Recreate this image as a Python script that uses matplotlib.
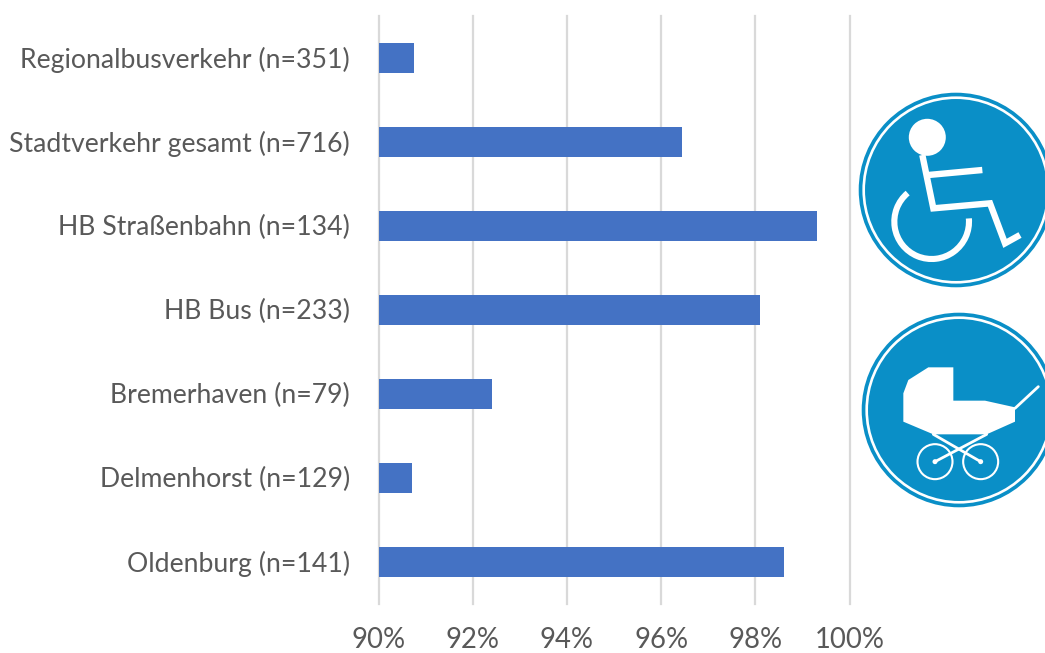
import matplotlib
matplotlib.use("Agg")
import matplotlib.pyplot as plt
from matplotlib.patches import Circle, Polygon, Arc
from matplotlib.transforms import ScaledTranslation

categories = ["Regionalbusverkehr (n=351)", "Stadtverkehr gesamt (n=716)", "HB Straßenbahn (n=134)",
              "HB Bus (n=233)", "Bremerhaven (n=79)", "Delmenhorst (n=129)", "Oldenburg (n=141)"]
values = [90.75, 96.44, 99.31, 98.1, 92.41, 90.72, 98.6]
ticks = [90, 92, 94, 96, 98, 100]
tick_labels = ["90%", "92%", "94%", "96%", "98%", "100%"]

W, H = 1045, 653
plt.rcParams["font.family"] = ["Lato", "DejaVu Sans"]
fig = plt.figure(figsize=(W / 100, H / 100), dpi=100, facecolor="white")
L, R, T, B = 378.5, 849.5, 16, 604
ax = fig.add_axes([L / W, 1 - B / H, (R - L) / W, (B - T) / H])
ax.set_xlim(90, 100)
ax.set_ylim(len(categories) - 0.5, -0.5)
ax.barh(range(len(categories)), values, height=0.357, left=0, color="#4472C4", zorder=3)
ax.set_xticks(ticks, tick_labels)
ax.set_yticks(range(len(categories)), categories)
ax.grid(axis="x", color="#D9D9D9", lw=1.6, zorder=0)
for g in ax.get_xgridlines():
    g.set_clip_on(False)
ax.set_axisbelow(True)
for s in ax.spines.values():
    s.set_visible(False)
ax.tick_params(axis="both", length=0, labelcolor="#595959")
ax.tick_params(axis="y", labelsize=19.2, pad=20.5)
ax.tick_params(axis="x", labelsize=19.8, pad=16.5)
for lab in ax.get_yticklabels():
    lab.set_transform(lab.get_transform() + ScaledTranslation(0, 1 / 100, fig.dpi_scale_trans))

# icons, drawn in reference pixel coordinates
ov = fig.add_axes([0, 0, 1, 1], zorder=5)
ov.set_xlim(0, W)
ov.set_ylim(H, 0)
ov.axis("off")
ov.patch.set_alpha(0)
BLUE = "#0A8FC7"

def disc(cx, cy, r):
    ov.add_patch(Circle((cx, cy), r, fc=BLUE, ec="none", clip_on=False))
    ov.add_patch(Circle((cx, cy), r - 5, fc="none", ec="white", lw=1.9))

def zx(x, y, oy):
    return [(845 + a / 3, oy + b / 3) for a, b in zip(x, y)]

# wheelchair
disc(956, 190, 97.3)
ov.add_patch(Circle((927.3, 137.3), 18.5, fc="white", ec="none"))
for xs, ys in [([232, 265, 435, 480, 525], [225, 385, 370, 490, 465]),
               ([250, 412], [285, 270])]:
    p = zx(xs, ys, 80)
    ov.plot([q[0] for q in p], [q[1] for q in p], color="white", lw=4.6,
            solid_joinstyle="miter", solid_capstyle="butt")
ov.add_patch(Arc((845 + 260 / 3, 80 + 425 / 3), 224 / 3, 224 / 3, theta1=-5, theta2=230,
                 ec="white", lw=4.4))

# pram
disc(959, 410, 97.3)
ov.add_patch(Polygon(zx([175, 175, 190, 250, 325, 325, 420, 510, 510, 425, 265, 175],
                        [365, 280, 240, 202, 202, 302, 302, 322, 365, 403, 403, 365], 300),
                     fc="white", ec="none"))
for xs, ys in [([510, 580], [325, 260]), ([265, 407], [403, 485]), ([425, 270], [403, 485])]:
    p = zx(xs, ys, 300)
    ov.plot([q[0] for q in p], [q[1] for q in p], color="white", lw=2.0, solid_capstyle="round")
for wx in (270, 407):
    c = zx([wx], [485], 300)[0]
    ov.add_patch(Circle(c, 17.5, fc="none", ec="white", lw=1.5))
    ov.add_patch(Circle(c, 2.5, fc="white", ec="none"))

fig.savefig("out.png", dpi=100)
